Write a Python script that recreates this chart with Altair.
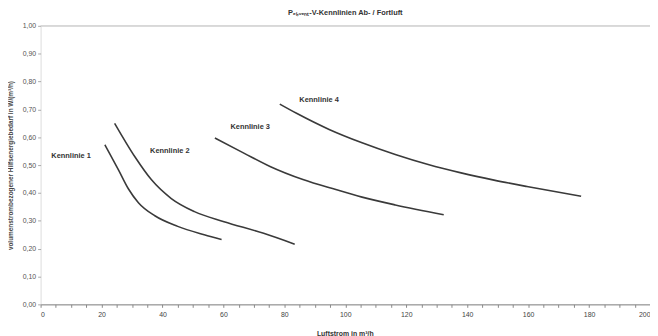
import altair as alt
import pandas as pd

# Kennlinie data (Luftstrom in m³/h, W/(m³/h))
k1_x = [21.1, 25.6, 28.8, 32.1, 37.5, 45.0, 53.7, 59.4]
k1_y = [0.573, 0.482, 0.415, 0.365, 0.318, 0.280, 0.250, 0.233]
k2_x = [24.3, 31.0, 36.4, 42.9, 50.5, 60.2, 73.2, 83.4]
k2_y = [0.650, 0.529, 0.447, 0.380, 0.333, 0.297, 0.255, 0.216]
k3_x = [57.2, 66.7, 75.3, 86.1, 96.9, 105.5, 116.4, 132.3]
k3_y = [0.597, 0.543, 0.495, 0.448, 0.412, 0.385, 0.357, 0.322]
k4_x = [78.5, 84.0, 94.7, 105.5, 116.4, 127.2, 138.0, 148.8, 159.6, 177.4]
k4_y = [0.719, 0.686, 0.628, 0.580, 0.538, 0.502, 0.472, 0.446, 0.423, 0.388]

label_text = ["Kennlinie 1", "Kennlinie 2", "Kennlinie 3", "Kennlinie 4"]
label_x = [10.0, 42.4, 68.8, 91.4]
label_y = [0.532, 0.551, 0.638, 0.734]

x_ticks = list(range(0, 201, 5))
y_ticks = [round(i * 0.1, 1) for i in range(11)]

rows = []
for name, xs, ys in [("Kennlinie 1", k1_x, k1_y), ("Kennlinie 2", k2_x, k2_y),
                     ("Kennlinie 3", k3_x, k3_y), ("Kennlinie 4", k4_x, k4_y)]:
    for i, (a, b) in enumerate(zip(xs, ys)):
        rows.append({"kurve": name, "x": a, "y": b, "i": i})
df = pd.DataFrame(rows)
lab = pd.DataFrame({"t": label_text, "x": label_x, "y": label_y})
top = pd.DataFrame({"y": [1.0]})

FONT = "Liberation Sans"

xscale = alt.Scale(domain=[0, 200], nice=False, zero=False)
yscale = alt.Scale(domain=[0, 1], nice=False)

xaxis = alt.Axis(
    values=x_ticks, labelExpr="datum.value % 20 == 0 ? datum.value : ''",
    title="Luftstrom in m³/h", titleFont=FONT, titleFontSize=7, titleFontWeight="bold",
    titleColor="#333", titleY=26, titleX=308,
    labelFont=FONT, labelFontSize=7, labelColor="#444", labelPadding=3,
    labelOverlap=False,
    tickSize=3, tickColor="#888", domainColor="#888", grid=False)
yaxis = alt.Axis(
    values=y_ticks, labelExpr="replace(format(datum.value, '.2f'), '.', ',')",
    title="volumenstrombezogener Hilfsenergiebedarf in W/(m³/h)",
    titleFont=FONT, titleFontSize=6.5, titleFontWeight="bold", titleColor="#444",
    titleX=-27, titleY=141, titleAngle=270,
    labelFont=FONT, labelFontSize=7, labelColor="#555", labelPadding=2,
    labelOverlap=False,
    tickSize=3, tickColor="#aaa", domain=False, grid=False)

X = alt.X("x:Q", scale=xscale, axis=xaxis)
Y = alt.Y("y:Q", scale=yscale, axis=yaxis)

lines = alt.Chart(df).mark_line(color="#3a3a3a", strokeWidth=1.6, interpolate="monotone").encode(
    x=X, y=Y, detail="kurve:N", order="i:Q")

texts = alt.Chart(lab).mark_text(font=FONT, fontSize=7.5, fontWeight="bold", color="#333").encode(
    x=X, y=Y, text="t:N")

toprule = alt.Chart(top).mark_rule(color="#c8c8c8", strokeWidth=1).encode(y=Y)

chart = alt.layer(lines, toprule, texts).properties(
    width=617, height=282,
    title=alt.TitleParams("Pₑₗ,ᵥₑₙₜ-V-Kennlinien Ab- / Fortluft", font=FONT, fontSize=7.5,
                          fontWeight="bold", color="#333", offset=5, anchor="middle"),
    autosize=alt.AutoSizeParams(type="none"),
    padding={"left": 33, "top": 16, "right": 0, "bottom": 30},
).configure_view(stroke=None).configure(background="white")

chart.save("out.html", embed_options={"renderer": "svg", "actions": False})
